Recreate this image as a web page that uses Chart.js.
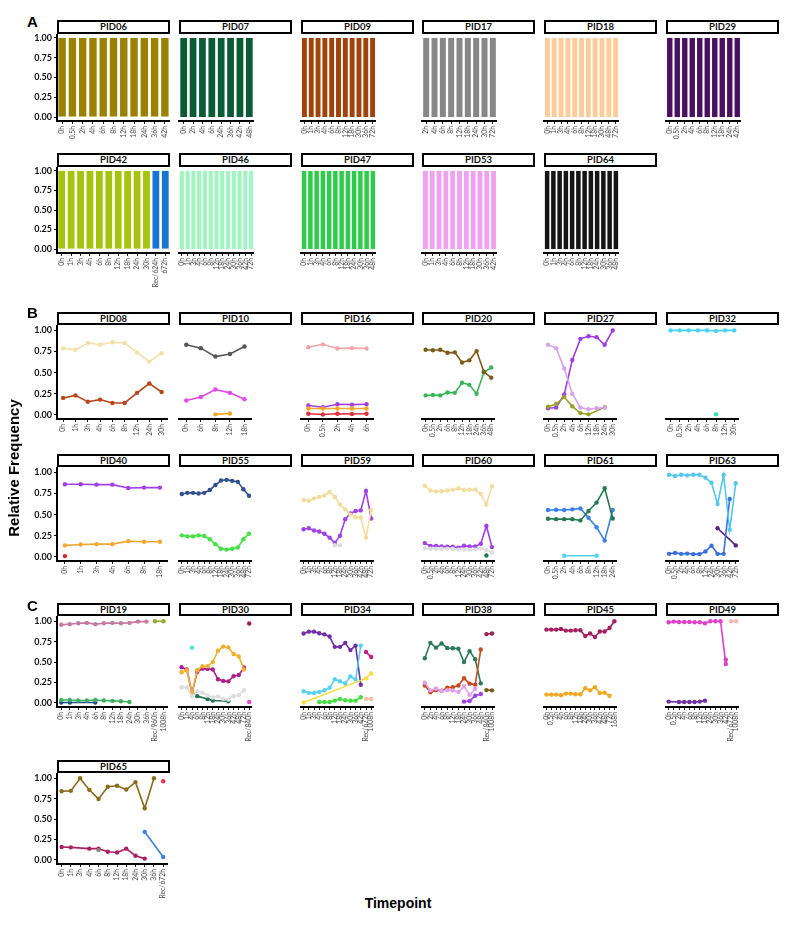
<!DOCTYPE html>
<html><head><meta charset="utf-8">
<script src="https://cdn.jsdelivr.net/npm/chart.js@4.4.1/dist/chart.umd.min.js"></script>
<style>
html,body{margin:0;padding:0;background:#fff;}
#root{position:relative;width:792px;height:946px;overflow:hidden;}
.strip{position:absolute;box-sizing:border-box;border:2px solid #000;background:#fff;font:bold 9.5px Lato,'Liberation Sans',sans-serif;text-align:center;color:#111;}
canvas{position:absolute;}
.lbl{position:absolute;font:bold 14px 'Liberation Sans',Arial,sans-serif;color:#000;white-space:nowrap;}
</style></head><body><div id="root"></div>
<script>
// ---------- Tick labels ----------
const Y_TICKS = [0, 0.25, 0.5, 0.75, 1];

// ---------- Panel A: timepoints (categories) ----------
const T_PID06 = ['0h','0.5h','2h','4h','6h','8h','12h','18h','24h','36h','42h'];
const T_PID07 = ['0h','2h','4h','6h','24h','36h','42h','48h'];
const T_PID09 = ['0h','1h','3h','4h','6h','8h','12h','18h','30h','36h','72h'];
const T_PID17 = ['2h','4h','6h','8h','12h','18h','24h','30h','72h'];
const T_PID18 = ['0h','1h','3h','4h','6h','8h','12h','18h','30h','48h','72h'];
const T_PID29 = ['0h','0.5h','2h','4h','6h','8h','12h','18h','24h','42h'];
const T_PID42 = ['0h','1h','3h','4h','6h','8h','12h','18h','24h','30h','Rec/624h','672h'];
const T_PID46 = ['0h','1h','3h','4h','6h','8h','12h','18h','24h','30h','36h','42h','72h'];
const T_PID47 = ['0h','1h','3h','4h','6h','8h','12h','18h','24h','30h','36h','48h'];
const T_PID53 = ['0h','1h','3h','4h','6h','8h','12h','18h','30h','36h','42h'];
const T_PID64 = ['0h','1h','3h','4h','6h','8h','12h','18h','24h','30h','36h','48h'];

// ---------- Panel A: relative frequencies ----------
const F_PID06 = [1,1,1,1,1,1,1,1,1,1,1];
const F_PID07 = [1,1,1,1,1,1,1,1];
const F_PID09 = [1,1,1,1,1,1,1,1,1,1,1];
const F_PID17 = [1,1,1,1,1,1,1,1,1];
const F_PID18 = [1,1,1,1,1,1,1,1,1,1,1];
const F_PID29 = [1,1,1,1,1,1,1,1,1,1];
const F_PID42_a = [1,1,1,1,1,1,1,1,1,1,null,null];
const F_PID42_b = [null,null,null,null,null,null,null,null,null,null,1,1];
const F_PID46 = [1,1,1,1,1,1,1,1,1,1,1,1,1];
const F_PID47 = [1,1,1,1,1,1,1,1,1,1,1,1];
const F_PID53 = [1,1,1,1,1,1,1,1,1,1,1];
const F_PID64 = [1,1,1,1,1,1,1,1,1,1,1,1];

// ---------- Panel B ----------
const T_PID08 = ['0h','1h','3h','4h','6h','8h','12h','24h','30h'];
const V_PID08_a = [0.79,0.77,0.85,0.83,0.86,0.85,0.74,0.63,0.73];
const V_PID08_b = [0.20,0.23,0.155,0.18,0.14,0.14,0.26,0.37,0.27];

const T_PID10 = ['0h','6h','8h','12h','18h'];
const V_PID10_a = [0.83,0.79,0.69,0.72,0.81];
const V_PID10_b = [0.17,0.21,0.30,0.26,0.185];
const V_PID10_c = [null,null,0.005,0.015,null];

const T_PID16 = ['0h','0.5h','2h','4h','6h'];
const V_PID16_a = [0.80,0.835,0.785,0.79,0.785];
const V_PID16_b = [0.11,0.09,0.125,0.12,0.125];
const V_PID16_c = [0.075,0.075,0.075,0.075,0.075];
const V_PID16_d = [0.012,0.004,0.012,0.01,0.012];

const T_PID20 = ['0h','0.5h','2h','6h','8h','12h','18h','24h','36h','48h'];
const V_PID20_a = [0.77,0.765,0.77,0.735,0.74,0.62,0.645,0.755,0.51,0.44];
const V_PID20_b = [0.23,0.235,0.23,0.265,0.26,0.38,0.355,0.25,0.50,0.56];

const T_PID27 = ['0h','0.5h','2h','4h','6h','12h','18h','24h','30h'];
const V_PID27_a = [0.83,0.79,0.55,0.25,0.085,0.065,0.077,0.085,null];
const V_PID27_b = [0.077,0.085,0.24,0.65,0.90,0.93,0.92,0.83,1.0];
const V_PID27_c = [0.096,0.127,0.21,0.10,0.02,0.005,null,0.09,null];

const T_PID32 = ['0h','0.5h','2h','4h','6h','8h','12h','30h'];
const V_PID32_a = [1,1,1,1,1,0.993,1,1];
const V_PID32_b = [null,null,null,null,null,0.005,null,null];

const T_PID40 = ['0h','1h','3h','4h','6h','8h','18h'];
const V_PID40_a = [0.86,0.86,0.855,0.855,0.815,0.82,0.82];
const V_PID40_b = [0.135,0.145,0.15,0.15,0.185,0.178,0.178];
const V_PID40_c = [0.008,null,null,null,null,null,null];

const T_PID55 = ['0h','1h','3h','4h','6h','8h','12h','18h','24h','30h','36h','48h','72h'];
const V_PID55_a = [0.745,0.758,0.758,0.75,0.758,0.792,0.85,0.904,0.912,0.90,0.888,0.80,0.723];
const V_PID55_b = [0.254,0.242,0.242,0.254,0.246,0.208,0.15,0.096,0.085,0.096,0.11,0.208,0.273];

const T_PID59 = ['0h','1h','3h','4h','6h','8h','12h','18h','24h','30h','36h','42h','48h','72h'];
const V_PID59_a = [0.673,0.665,0.692,0.708,0.727,0.769,0.708,0.619,0.562,0.50,0.469,0.465,0.227,0.554];
const V_PID59_b = [0.327,0.338,0.312,0.30,0.273,0.227,0.165,0.25,0.446,0.515,0.542,0.55,0.781,0.454];
const V_PID59_c = [null,null,null,null,null,null,0.138,0.138,null,null,null,null,null,null];

const T_PID60 = ['0h','0.5h','2h','4h','6h','8h','12h','24h','30h','36h','42h','48h','72h'];
const V_PID60_a = [0.842,0.785,0.773,0.777,0.785,0.796,0.812,0.792,0.796,0.796,0.746,0.619,0.838];
const V_PID60_b = [0.162,0.127,0.127,0.123,0.119,0.119,0.108,0.131,0.123,0.123,0.154,0.365,0.115];
const V_PID60_c = [0.10,0.095,0.095,0.095,0.095,0.095,0.085,0.085,0.085,0.088,0.10,0.08,0.05];
const V_PID60_d = [null,null,null,null,null,null,null,null,null,null,null,0.015,null];

const T_PID61 = ['0h','0.5h','2h','4h','6h','8h','12h','18h','24h'];
const V_PID61_a = [0.554,0.558,0.554,0.562,0.573,0.462,0.35,0.192,0.554];
const V_PID61_b = [0.45,0.446,0.446,0.446,0.431,0.542,0.642,0.812,0.454];
const V_PID61_c = [null,null,0.012,null,null,null,0.012,null,null];

const T_PID63 = ['0h','0.5h','2h','4h','6h','8h','12h','24h','30h','36h','42h','72h'];
const V_PID63_a = [0.973,0.958,0.973,0.965,0.973,0.973,0.938,0.877,0.627,0.969,0.319,0.873];
const V_PID63_b = [0.035,0.046,0.035,0.038,0.031,0.031,0.062,0.131,0.035,0.035,0.685,null];
const V_PID63_c = [null,null,null,null,null,null,null,null,0.338,null,null,0.135];

// ---------- Panel C ----------
const T_PID19 = ['0h','1h','3h','4h','6h','8h','12h','18h','24h','30h','36h','Rec/960h','1008h'];
const V_PID19_a = [0.957,0.965,0.976,0.98,0.965,0.976,0.98,0.976,0.98,0.996,0.996,null,null];
const V_PID19_b = [null,null,null,null,null,null,null,null,null,null,null,1,1];
const V_PID19_c = [0.035,0.035,0.03,0.03,0.035,0.03,0.025,0.02,0.012,null,null,null,null];
const V_PID19_d = [0.006,0.006,null,null,0.006,null,null,null,null,null,null,null,null];

const T_PID30 = ['0h','1h','4h','6h','8h','12h','18h','24h','30h','36h','42h','48h','72h','Rec/840h'];
const V_PID30_a = [0.375,0.40,0.12,0.40,0.45,0.45,0.50,0.64,0.69,0.68,0.60,0.57,0.41,null];
const V_PID30_b = [0.437,0.41,0.12,0.38,0.42,0.417,0.41,0.29,0.27,0.264,0.327,0.342,0.433,null];
const V_PID30_c = [0.19,0.19,0.08,0.145,0.125,0.09,0.067,0.08,0.05,0.04,0.085,0.095,0.157,null];
const V_PID30_d = [null,null,0.677,null,null,null,null,null,null,null,null,null,null,null];
const V_PID30_e = [null,null,null,0.083,null,0.047,0.03,null,null,0.02,null,null,null,null];
const V_PID30_f = [null,null,null,null,null,null,null,null,null,null,null,null,null,0.972];
const V_PID30_g = [null,null,null,null,null,null,null,null,null,null,null,null,null,0.012];

const T_PID34 = ['0h','1h','3h','4h','6h','8h','12h','18h','24h','30h','36h','42h','Rec/672h','1008h'];
const V_PID34_a = [0.85,0.873,0.873,0.853,0.84,0.813,0.687,0.687,0.734,0.647,0.702,0.222,null,null];
const V_PID34_b = [0.143,0.123,0.123,0.135,0.155,0.187,0.29,0.266,0.238,0.325,0.286,0.702,null,null];
const V_PID34_c = [0.005,null,null,null,null,null,null,null,null,null,null,null,0.30,0.36];
const V_PID34_d = [null,null,null,0.012,0.012,0.012,0.028,0.048,0.032,0.028,0.028,0.07,null,null];
const V_PID34_e = [null,null,null,null,null,null,null,null,null,null,null,null,0.623,0.563];
const V_PID34_f = [null,null,null,null,null,null,null,null,null,null,null,null,0.048,0.048];

const T_PID38 = ['0h','2h','4h','6h','8h','12h','18h','24h','30h','36h','48h','Rec/840h','1008h'];
const V_PID38_a = [0.547,0.736,0.677,0.728,0.673,0.669,0.665,0.50,0.634,0.535,0.24,null,null];
const V_PID38_b = [0.213,0.13,0.157,0.15,0.185,0.193,0.213,0.303,0.236,0.224,0.654,null,null];
const V_PID38_c = [0.248,0.154,0.177,0.146,0.157,0.154,0.134,0.205,0.098,0.173,null,null,null];
const V_PID38_d = [null,null,null,null,null,null,null,0.016,0.024,0.087,0.11,null,null];
const V_PID38_e = [null,null,null,null,null,null,null,null,null,null,null,0.843,0.85];
const V_PID38_f = [null,null,null,null,null,null,null,null,null,null,null,0.157,0.154];

const T_PID45 = ['0h','0.5h','2h','4h','6h','8h','12h','18h','24h','30h','36h','42h','48h','72h','168h'];
const V_PID45_a = [0.898,0.898,0.898,0.905,0.886,0.886,0.89,0.89,0.819,0.85,0.807,0.874,0.874,0.917,1.0];
const V_PID45_b = [0.102,0.102,0.102,0.094,0.114,0.114,0.106,0.106,0.181,0.154,0.193,0.122,0.126,0.087,null];

const T_PID49 = ['0h','0.5h','2h','4h','6h','8h','12h','18h','24h','30h','36h','42h','Rec/672h','1008h'];
const V_PID49_a = [0.988,0.996,0.992,0.992,0.992,0.988,0.988,0.976,1,1,1,0.476,null,null];
const V_PID49_b = [null,null,null,null,null,null,null,null,null,null,null,0.528,null,null];
const V_PID49_c = [0.016,null,0.012,0.012,0.012,0.012,0.016,0.028,null,null,null,null,null,null];
const V_PID49_d = [null,null,null,null,null,null,null,null,null,null,null,null,1,1];

const T_PID65 = ['0h','1h','3h','4h','6h','8h','12h','18h','24h','30h','36h','Rec/672h'];
const V_PID65_a = [0.842,0.846,1.0,0.858,0.747,0.897,0.909,0.862,0.953,0.632,1.0,null];
const V_PID65_b = [0.158,0.154,null,0.138,0.138,0.10,0.091,0.138,0.051,0.016,null,null];
const V_PID65_c = [null,null,null,null,0.12,null,null,null,null,null,null,null];
const V_PID65_d = [null,null,null,null,null,null,null,null,null,0.344,null,0.036];
const V_PID65_e = [null,null,null,null,null,null,null,null,null,null,null,0.964];

// ---------- Layout ----------
const COLX = [57,179,301,422,544,666];
const PW = 113;
const ROWS = [
  {strip:20, sh:14, top:34, bottom:121},
  {strip:153, sh:14, top:167, bottom:253},
  {strip:312, sh:13, top:326, bottom:421},
  {strip:454, sh:13, top:468, bottom:563},
  {strip:603, sh:13, top:617, bottom:709},
  {strip:760, sh:13, top:774, bottom:866}
];
const YW = 38, XH = 50;

const PANELS = [
  {id:'PID06',r:0,c:0,bar:true,t:T_PID06,s:[[F_PID06,'#9A8200']]},
  {id:'PID07',r:0,c:1,bar:true,t:T_PID07,s:[[F_PID07,'#0B5C36']]},
  {id:'PID09',r:0,c:2,bar:true,t:T_PID09,s:[[F_PID09,'#A0420A']]},
  {id:'PID17',r:0,c:3,bar:true,t:T_PID17,s:[[F_PID17,'#878787']]},
  {id:'PID18',r:0,c:4,bar:true,t:T_PID18,s:[[F_PID18,'#FFCC99']]},
  {id:'PID29',r:0,c:5,bar:true,t:T_PID29,s:[[F_PID29,'#4A1060']]},
  {id:'PID42',r:1,c:0,bar:true,t:T_PID42,s:[[F_PID42_a,'#A6C40E'],[F_PID42_b,'#1874D2']]},
  {id:'PID46',r:1,c:1,bar:true,t:T_PID46,s:[[F_PID46,'#A0F5C0']]},
  {id:'PID47',r:1,c:2,bar:true,t:T_PID47,s:[[F_PID47,'#2ECC4A']]},
  {id:'PID53',r:1,c:3,bar:true,t:T_PID53,s:[[F_PID53,'#EFA2F2']]},
  {id:'PID64',r:1,c:4,bar:true,t:T_PID64,s:[[F_PID64,'#151515']]},

  {id:'PID08',r:2,c:0,t:T_PID08,s:[[V_PID08_a,'#F2E0A6'],[V_PID08_b,'#B8461C']]},
  {id:'PID10',r:2,c:1,t:T_PID10,s:[[V_PID10_a,'#555555'],[V_PID10_b,'#E048E8'],[V_PID10_c,'#F5A623']]},
  {id:'PID16',r:2,c:2,t:T_PID16,s:[[V_PID16_a,'#F0A4A4'],[V_PID16_c,'#F5A623'],[V_PID16_b,'#A040E8'],[V_PID16_d,'#E0303C']]},
  {id:'PID20',r:2,c:3,t:T_PID20,s:[[V_PID20_a,'#7A5C18'],[V_PID20_b,'#3AB45A']]},
  {id:'PID27',r:2,c:4,t:T_PID27,s:[[V_PID27_a,'#D9A2EE'],[V_PID27_c,'#9AA028'],[V_PID27_b,'#A03CE6']]},
  {id:'PID32',r:2,c:5,t:T_PID32,s:[[V_PID32_a,'#48D4F2'],[V_PID32_b,'#30E0B8']]},

  {id:'PID40',r:3,c:0,t:T_PID40,s:[[V_PID40_a,'#A040E8'],[V_PID40_b,'#F0A830'],[V_PID40_c,'#E02030']]},
  {id:'PID55',r:3,c:1,t:T_PID55,s:[[V_PID55_a,'#305090'],[V_PID55_b,'#44E044']]},
  {id:'PID59',r:3,c:2,t:T_PID59,s:[[V_PID59_c,'#DDDDDD'],[V_PID59_a,'#F2DC9E'],[V_PID59_b,'#A040E8']]},
  {id:'PID60',r:3,c:3,t:T_PID60,s:[[V_PID60_c,'#DDDDDD'],[V_PID60_a,'#F2DC9E'],[V_PID60_b,'#A040E8'],[V_PID60_d,'#1F7A50']]},
  {id:'PID61',r:3,c:4,t:T_PID61,s:[[V_PID61_c,'#50D4F0'],[V_PID61_b,'#267A50'],[V_PID61_a,'#3B82E6']]},
  {id:'PID63',r:3,c:5,t:T_PID63,s:[[V_PID63_a,'#52C8EE'],[V_PID63_b,'#3A70DC'],[V_PID63_c,'#5C2080']]},

  {id:'PID19',r:4,c:0,t:T_PID19,s:[[V_PID19_a,'#C27A9E'],[V_PID19_b,'#98A832'],[V_PID19_c,'#40B060'],[V_PID19_d,'#1F4E80']]},
  {id:'PID30',r:4,c:1,t:T_PID30,s:[[V_PID30_c,'#DDDDDD'],[V_PID30_a,'#F0B030'],[V_PID30_b,'#B0208C'],[V_PID30_d,'#40E8E0'],[V_PID30_e,'#247050'],[V_PID30_f,'#A02050'],[V_PID30_g,'#F040E0']]},
  {id:'PID34',r:4,c:2,t:T_PID34,s:[[V_PID34_c,'#F5E040'],[V_PID34_d,'#44E040'],[V_PID34_b,'#58D0F0'],[V_PID34_a,'#7030A8'],[V_PID34_e,'#C02080'],[V_PID34_f,'#F5C0A8']]},
  {id:'PID38',r:4,c:3,t:T_PID38,s:[[V_PID38_c,'#E0A0E8'],[V_PID38_b,'#C84A20'],[V_PID38_a,'#2A7A5A'],[V_PID38_d,'#A040E8'],[V_PID38_e,'#A02050'],[V_PID38_f,'#7A5A1A']]},
  {id:'PID45',r:4,c:4,t:T_PID45,s:[[V_PID45_a,'#A52060'],[V_PID45_b,'#F0A820']]},
  {id:'PID49',r:4,c:5,t:T_PID49,s:[[V_PID49_a,'#E040C8'],[V_PID49_b,'#D83AB0'],[V_PID49_c,'#7030A0'],[V_PID49_d,'#F0B8B8']]},

  {id:'PID65',r:5,c:0,t:T_PID65,s:[[V_PID65_a,'#8A6C1A'],[V_PID65_c,'#888888'],[V_PID65_b,'#A82060'],[V_PID65_d,'#3A80E0'],[V_PID65_e,'#E83050']]}
];

const root = document.getElementById('root');
const FONT = "Lato, 'Liberation Sans', sans-serif";

function addLabel(text, css) {
  const d = document.createElement('div');
  d.className = 'lbl'; d.textContent = text;
  Object.assign(d.style, css);
  root.appendChild(d);
  return d;
}

function addPanel(p) {
  const row = ROWS[p.r], x0 = COLX[p.c], first = p.c === 0;
  const st = document.createElement('div');
  st.className = 'strip';
  Object.assign(st.style, {left:x0+'px', top:row.strip+'px', width:PW+'px', height:row.sh+'px', lineHeight:(row.sh-4)+'px'});
  st.textContent = p.id;
  root.appendChild(st);

  const lw = first ? YW : 0;
  const ph = row.bottom - row.top;
  const cv = document.createElement('canvas');
  cv.width = PW + lw; cv.height = ph + XH;
  cv.style.left = (x0 - lw) + 'px'; cv.style.top = row.top + 'px';
  root.appendChild(cv);

  const datasets = p.s.map(([data, col]) => p.bar ? {
      data, backgroundColor: col, borderWidth: 0, barPercentage: 0.72, categoryPercentage: 1
    } : {
      data, borderColor: col, backgroundColor: col, borderWidth: 1.6, pointRadius: 2.2,
      pointBorderWidth: 0, pointHoverRadius: 2.2, spanGaps: true, clip: false, tension: 0
    });

  const chart = new Chart(cv, {
    type: p.bar ? 'bar' : 'line',
    data: {labels: p.t, datasets},
    options: {
      responsive: false, animation: false, devicePixelRatio: 1, events: [],
      layout: {padding: 0},
      plugins: {legend: {display: false}, tooltip: {enabled: false}},
      scales: {
        x: {
          type: 'category', offset: true, stacked: !!p.bar,
          grid: {display: true, offset: false, drawOnChartArea: false, drawTicks: true, tickLength: 3, color: '#222', lineWidth: 1},
          border: {display: true, color: '#000', width: 2},
          ticks: {autoSkip: false, minRotation: 90, maxRotation: 90, padding: 2, color: '#4a4a4a', font: {family: FONT, size: 6.8}},
          afterFit: s => { s.height = XH; s.paddingLeft = 0; s.paddingRight = 0; }
        },
        y: {
          display: first, min: -0.05, max: 1.05, stacked: !!p.bar,
          afterBuildTicks: s => { s.ticks = Y_TICKS.map(v => ({value: v})); },
          grid: {drawOnChartArea: false, drawTicks: true, tickLength: 3, color: '#000', lineWidth: 1},
          border: {display: true, color: '#000', width: 2},
          ticks: {padding: 2, color: '#111', font: {family: FONT, size: 9, weight: 'bold'}, callback: v => Number(v).toFixed(2)},
          afterFit: s => { s.width = YW; s.paddingTop = 0; s.paddingBottom = 0; }
        }
      }
    }
  });
  const ca = chart.chartArea;
  cv.style.left = (x0 - ca.left) + 'px';
  cv.style.top = (row.top - ca.top) + 'px';
}

PANELS.forEach(addPanel);

addLabel('A', {left:'27px', top:'13px', fontSize:'15px'});
addLabel('B', {left:'27px', top:'304px', fontSize:'15px'});
addLabel('C', {left:'27px', top:'597px', fontSize:'15px'});
addLabel('Relative Frequency', {left:'13px', top:'468px', fontSize:'15px', transform:'translate(-50%,-50%) rotate(-90deg)'});
addLabel('Timepoint', {left:'398px', top:'903px', fontSize:'14px', transform:'translate(-50%,-50%)'});
</script></body></html>
